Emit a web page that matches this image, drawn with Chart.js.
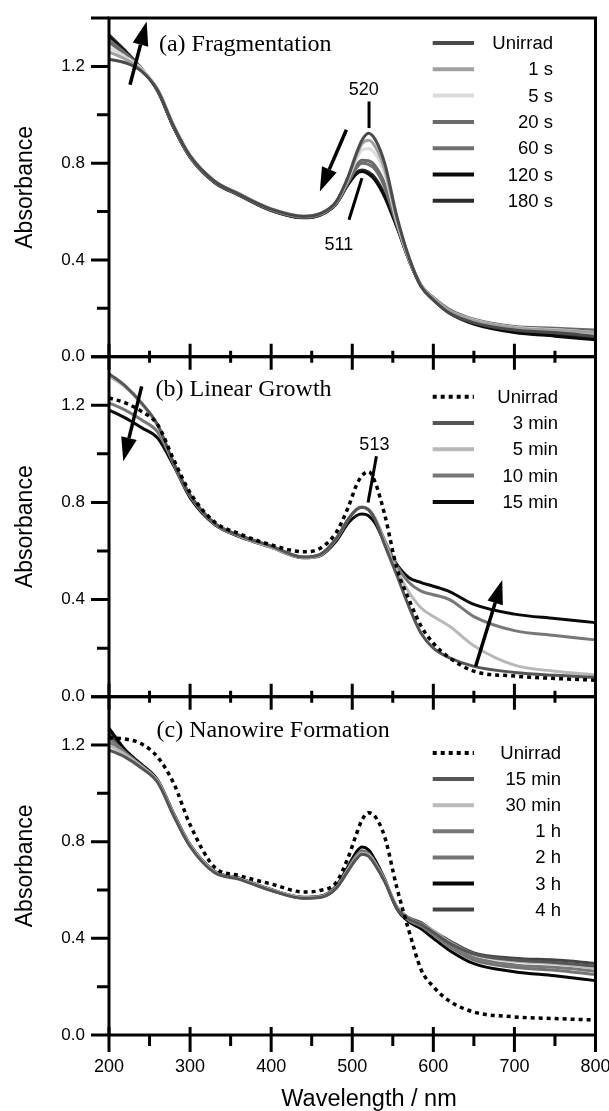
<!DOCTYPE html>
<html><head><meta charset="utf-8">
<script src="https://cdn.jsdelivr.net/npm/chart.js@4.4.1/dist/chart.umd.min.js"></script>
<style>
html,body{margin:0;padding:0;background:#fff;width:609px;height:1111px;overflow:hidden}
.p{position:absolute;left:0;width:609px}
canvas{display:block}
</style></head><body>
<div class="p" style="top:0px;height:380px"><canvas id="ca" width="609" height="380"></canvas></div>
<div class="p" style="top:340px;height:380px"><canvas id="cb" width="609" height="380"></canvas></div>
<div class="p" style="top:680px;height:431px"><canvas id="cc" width="609" height="431"></canvas></div>
<script>
// ---------- DATA ----------
const wavelengths = [200,220,240,260,280,300,330,360,400,440,460,480,495,505,512,520,528,540,555,570,585,600,620,650,700,750,800];

const xMajorTicks = [200,300,400,500,600,700,800];
const xTickLabels = ['200','300','400','500','600','700','800'];
const xMinorTicks = [250,350,450,550,650,750];
const yMajorTicks = [0,0.4,0.8,1.2];
const yTickLabels = ['0.0','0.4','0.8','1.2'];
const yMinorTicks = [0.2,0.6,1.0];

// (a) Fragmentation
const labelsA = ['Unirrad','1 s','5 s','20 s','60 s','120 s','180 s'];
const aUnirrad = [1.23,1.215,1.18,1.10,0.95,0.83,0.725,0.672,0.61,0.58,0.59,0.64,0.745,0.84,0.895,0.924,0.90,0.80,0.58,0.41,0.29,0.235,0.18,0.14,0.11,0.10,0.085];
const a1s  = [1.26,1.23,1.185,1.105,0.955,0.832,0.728,0.675,0.612,0.582,0.592,0.64,0.74,0.83,0.88,0.895,0.87,0.775,0.57,0.41,0.295,0.24,0.19,0.15,0.12,0.11,0.10];
const a5s  = [1.28,1.24,1.19,1.105,0.953,0.83,0.726,0.673,0.61,0.58,0.59,0.638,0.735,0.815,0.855,0.86,0.84,0.755,0.56,0.405,0.295,0.242,0.19,0.152,0.122,0.112,0.10];
const a20s = [1.30,1.25,1.19,1.10,0.95,0.828,0.724,0.672,0.608,0.578,0.588,0.635,0.725,0.79,0.812,0.81,0.79,0.715,0.55,0.40,0.295,0.245,0.195,0.155,0.125,0.118,0.11];
const a60s = [1.31,1.255,1.19,1.10,0.948,0.826,0.722,0.67,0.606,0.576,0.586,0.632,0.72,0.78,0.80,0.795,0.775,0.70,0.545,0.40,0.295,0.243,0.192,0.152,0.12,0.11,0.10];
const a120s= [1.32,1.26,1.19,1.098,0.945,0.824,0.72,0.668,0.604,0.574,0.584,0.63,0.712,0.755,0.765,0.755,0.73,0.66,0.535,0.40,0.29,0.235,0.18,0.135,0.10,0.085,0.07];
const a180s= [1.33,1.265,1.192,1.10,0.947,0.826,0.722,0.67,0.605,0.575,0.585,0.632,0.715,0.762,0.772,0.763,0.74,0.67,0.54,0.40,0.292,0.238,0.185,0.14,0.105,0.092,0.08];

// (b) Linear Growth
const labelsB = ['Unirrad','3 min','5 min','10 min','15 min'];
const bUnirrad = [1.23,1.21,1.175,1.12,0.975,0.84,0.72,0.672,0.625,0.597,0.61,0.675,0.78,0.87,0.91,0.927,0.885,0.75,0.53,0.40,0.29,0.22,0.16,0.105,0.085,0.075,0.068];
const b3min  = [1.33,1.28,1.21,1.12,0.96,0.83,0.715,0.665,0.62,0.575,0.585,0.65,0.73,0.77,0.78,0.77,0.73,0.625,0.50,0.37,0.26,0.20,0.16,0.125,0.10,0.088,0.08];
const b5min  = [1.32,1.275,1.205,1.115,0.958,0.828,0.713,0.662,0.615,0.572,0.582,0.648,0.73,0.772,0.782,0.772,0.735,0.635,0.52,0.43,0.365,0.33,0.29,0.21,0.13,0.105,0.09];
const b10min = [1.21,1.18,1.14,1.09,0.96,0.83,0.715,0.665,0.62,0.575,0.585,0.65,0.73,0.77,0.78,0.77,0.735,0.645,0.54,0.47,0.435,0.42,0.40,0.33,0.272,0.252,0.234];
const b15min = [1.18,1.148,1.108,1.065,0.95,0.82,0.71,0.66,0.615,0.572,0.58,0.64,0.715,0.745,0.752,0.745,0.715,0.635,0.545,0.49,0.47,0.455,0.433,0.38,0.34,0.322,0.305];

// (c) Nanowire Formation
const labelsC = ['Unirrad','15 min','30 min','1 h','2 h','3 h','4 h'];
const cUnirrad = [1.23,1.225,1.205,1.15,1.04,0.87,0.695,0.66,0.625,0.592,0.598,0.63,0.735,0.83,0.89,0.92,0.905,0.82,0.61,0.43,0.27,0.20,0.14,0.095,0.075,0.068,0.062];
const c15min = [1.18,1.15,1.105,1.045,0.905,0.78,0.672,0.645,0.598,0.566,0.569,0.607,0.68,0.728,0.748,0.74,0.705,0.635,0.525,0.48,0.458,0.425,0.38,0.335,0.31,0.30,0.285];
const c30min = [1.20,1.16,1.11,1.05,0.91,0.785,0.676,0.648,0.60,0.568,0.571,0.61,0.684,0.733,0.752,0.745,0.71,0.64,0.53,0.482,0.46,0.43,0.385,0.335,0.305,0.295,0.275];
const c1h = [1.21,1.165,1.112,1.05,0.91,0.785,0.676,0.648,0.60,0.568,0.571,0.61,0.686,0.736,0.756,0.748,0.712,0.64,0.528,0.478,0.455,0.42,0.37,0.32,0.29,0.28,0.265];
const c2h = [1.23,1.17,1.115,1.052,0.912,0.786,0.677,0.649,0.601,0.569,0.572,0.612,0.69,0.742,0.762,0.752,0.715,0.642,0.526,0.475,0.45,0.415,0.365,0.31,0.28,0.268,0.25];
const c3h = [1.27,1.18,1.12,1.055,0.915,0.788,0.678,0.65,0.602,0.57,0.574,0.616,0.698,0.757,0.778,0.766,0.725,0.645,0.522,0.468,0.44,0.40,0.35,0.295,0.262,0.245,0.225];
const c4h = [1.25,1.175,1.115,1.05,0.91,0.784,0.675,0.647,0.599,0.567,0.57,0.608,0.682,0.73,0.75,0.742,0.708,0.638,0.53,0.485,0.465,0.43,0.39,0.34,0.318,0.31,0.297];

// ---------- STYLES ----------
const colorsA = ['#4a4a4a','#a0a0a0','#dcdcdc','#6a6a6a','#707070','#0a0a0a','#2b2b2b'];
const colorsB = ['#000000','#555555','#b8b8b8','#777777','#0a0a0a'];
const colorsC = ['#000000','#555555','#bbbbbb','#777777','#747474','#050505','#444444'];

Chart.defaults.font.family = 'Liberation Sans';
Chart.defaults.color = '#000';

function arrow(ctx, x1, y1, x2, y2) {
  const ang = Math.atan2(y2 - y1, x2 - x1), L = 24, H = 8;
  const bx = x2 - L * Math.cos(ang), by = y2 - L * Math.sin(ang);
  ctx.lineWidth = 3.5;
  ctx.beginPath(); ctx.moveTo(x1, y1); ctx.lineTo(bx, by); ctx.stroke();
  ctx.beginPath(); ctx.moveTo(x2, y2);
  ctx.lineTo(bx + H * Math.sin(ang), by - H * Math.cos(ang));
  ctx.lineTo(bx - H * Math.sin(ang), by + H * Math.cos(ang));
  ctx.closePath(); ctx.fill();
}

const decor = {
  id: 'decor',
  afterDatasetsDraw(chart, args, o) {
    const {ctx, chartArea: a, scales: {x, y}} = chart;
    const P = (w, v) => [x.getPixelForValue(w), y.getPixelForValue(v)];
    ctx.save();
    ctx.strokeStyle = '#000'; ctx.fillStyle = '#000'; ctx.setLineDash([]);
    ctx.lineWidth = 3;
    ctx.strokeRect(a.left, a.top, a.right - a.left, a.bottom - a.top);
    ctx.beginPath();
    yMajorTicks.concat([1.4]).forEach(v => { const py = y.getPixelForValue(v); ctx.moveTo(a.left - 18, py); ctx.lineTo(a.left, py); });
    yMinorTicks.forEach(v => { const py = y.getPixelForValue(v); ctx.moveTo(a.left - 12, py); ctx.lineTo(a.left, py); });
    xMajorTicks.forEach(w => { const px = x.getPixelForValue(w); ctx.moveTo(px, a.bottom - o.majUp); ctx.lineTo(px, a.bottom + o.majDown); });
    xMinorTicks.forEach(w => { const px = x.getPixelForValue(w); ctx.moveTo(px, a.bottom - o.minUp); ctx.lineTo(px, a.bottom + o.minDown); });
    ctx.stroke();
    (o.arrows || []).forEach(ar => { const p1 = P(...ar.from), p2 = P(...ar.to); arrow(ctx, p1[0], p1[1], p2[0], p2[1]); });
    ctx.lineWidth = 3;
    (o.lines || []).forEach(l => { const p1 = P(...l.from), p2 = P(...l.to); ctx.beginPath(); ctx.moveTo(p1[0], p1[1]); ctx.lineTo(p2[0], p2[1]); ctx.stroke(); });
    ctx.font = '18px "Liberation Sans"'; ctx.textAlign = 'center'; ctx.textBaseline = 'middle';
    (o.texts || []).forEach(t => { const p = P(...t.at); ctx.fillText(t.text, p[0], p[1]); });
    ctx.font = '24px "Liberation Serif"'; ctx.textAlign = 'left';
    const tp = P(...o.title.at); ctx.fillText(o.title.text, tp[0], tp[1]);
    const ds = chart.data.datasets;
    ds.forEach((d, i) => {
      const ry = a.top + o.legTop + i * o.legStep;
      ctx.strokeStyle = d.borderColor; ctx.lineWidth = 4;
      ctx.setLineDash(d.borderDash && d.borderDash.length ? [4, 4] : []);
      ctx.beginPath(); ctx.moveTo(432.7, ry); ctx.lineTo(474, ry); ctx.stroke();
      ctx.setLineDash([]);
      ctx.fillStyle = '#000'; ctx.font = '18.5px "Liberation Sans"'; ctx.textAlign = 'right';
      ctx.fillText(d.label, o.legRight, ry + 1);
    });
    if (o.xTitle) {
      ctx.fillStyle = '#000'; ctx.font = '23.5px "Liberation Sans"'; ctx.textAlign = 'center';
      ctx.fillText(o.xTitle, 369, a.bottom + 65);
    }
    ctx.restore();
  }
};

function makePanel(id, labels, series, colors, dotted0, padTop, padBottom, showX, deco) {
  const datasets = series.map((vals, i) => ({
    label: labels[i],
    data: wavelengths.map((w, k) => ({x: w, y: vals[k]})),
    borderColor: colors[i],
    borderWidth: (dotted0 && i === 0) ? 3.5 : 3,
    borderDash: (dotted0 && i === 0) ? [4, 4] : [],
    pointRadius: 0,
    cubicInterpolationMode: 'monotone',
    fill: false
  }));
  return new Chart(document.getElementById(id), {
    type: 'line',
    data: {datasets},
    options: {
      responsive: false, animation: false, events: [],
      layout: {padding: {top: padTop, right: 13.5, bottom: padBottom, left: 0}},
      plugins: {legend: {display: false}, tooltip: {enabled: false}, decor: deco},
      scales: {
        x: {
          type: 'linear', min: 200, max: 800, display: showX,
          afterBuildTicks: s => { s.ticks = xMajorTicks.map(v => ({value: v})); },
          afterFit: s => { s.height = showX ? 76 : 0; s.paddingLeft = 0; s.paddingRight = 0; },
          ticks: {callback: (v, i) => xTickLabels[i], font: {size: 18}, color: '#000', padding: 4, maxRotation: 0, autoSkip: false},
          grid: {drawOnChartArea: false, color: 'rgba(0,0,0,0)', tickLength: 17},
          border: {display: false}
        },
        y: {
          type: 'linear', min: 0, max: 1.4,
          afterBuildTicks: s => { s.ticks = yMajorTicks.map(v => ({value: v})); },
          afterFit: s => { s.width = 109; s.paddingTop = 0; s.paddingBottom = 0; },
          ticks: {callback: (v, i) => yTickLabels[i], font: {size: 17}, color: '#000', padding: 6, autoSkip: false},
          grid: {drawOnChartArea: false, color: 'rgba(0,0,0,0)', tickLength: 18},
          border: {display: false},
          title: {display: true, text: 'Absorbance', font: {size: 23}, color: '#000', padding: {top: 12, bottom: 0}}
        }
      }
    },
    plugins: [decor]
  });
}

makePanel('ca', labelsA, [aUnirrad, a1s, a5s, a20s, a60s, a120s, a180s], colorsA, false, 18, 23.3, false, {
  majUp: 13, majDown: 13, minUp: 6, minDown: 6,
  arrows: [{from: [225.9, 1.124], to: [246.4, 1.386]}, {from: [492.8, 0.938], to: [460, 0.683]}],
  lines: [{from: [520.7, 1.055], to: [520.7, 0.945]}, {from: [496, 0.566], to: [512, 0.738]}],
  texts: [{text: '520', at: [514.1, 1.103]}, {text: '511', at: [483.4, 0.462]}],
  title: {text: '(a) Fragmentation', at: [261.6, 1.29]},
  legTop: 25, legStep: 26.3, legRight: 553
});
makePanel('cb', labelsB, [bUnirrad, b3min, b5min, b10min, b15min], colorsB, true, 16.7, 23.3, false, {
  majUp: 13, majDown: 13, minUp: 6, minDown: 6,
  arrows: [{from: [240.3, 1.278], to: [217.6, 0.969]}, {from: [652.1, 0.124], to: [685, 0.481]}],
  lines: [{from: [529.8, 0.99], to: [519.5, 0.80]}],
  texts: [{text: '513', at: [527.3, 1.038]}],
  title: {text: '(b) Linear Growth', at: [257.5, 1.263]},
  legTop: 40, legStep: 26.3, legRight: 558
});
makePanel('cc', labelsC, [cUnirrad, c15min, c30min, c1h, c2h, c3h, c4h], colorsC, true, 16.7, 0, true, {
  majUp: 8, majDown: 17, minUp: 0, minDown: 11,
  arrows: [], lines: [], texts: [],
  title: {text: '(c) Nanowire Formation', at: [258.6, 1.259]},
  legTop: 56.3, legStep: 26.1, legRight: 561,
  xTitle: 'Wavelength / nm'
});
</script>
</body></html>
